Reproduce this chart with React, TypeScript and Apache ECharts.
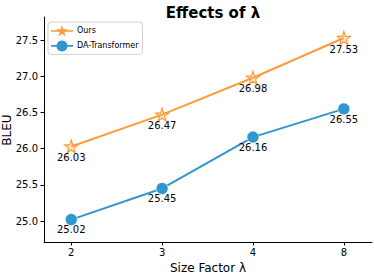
import React, { useEffect, useRef } from "react";
import * as echarts from "echarts";

const categories = ["2", "3", "4", "8"];
const oursValues = [26.03, 26.47, 26.98, 27.53];
const daValues = [25.02, 25.45, 26.16, 26.55];
const yTicks = [25.0, 25.5, 26.0, 26.5, 27.0, 27.5];

const ORANGE = "#FF9B3A";
const BLUE = "#2F96D0";
const FONT = "DejaVu Sans";
const STAR = "path://M50,0 L61.8,36.2 L100,36.2 L69.1,58.8 L80.9,95.1 L50,72.7 L19.1,95.1 L30.9,58.8 L0,36.2 L38.2,36.2 Z";
const LEG_STAR =
  "path://M0,5.2 L22,5.2 L22,6.8 L0,6.8 Z M11,0 L12.42,4.34 L17,4.34 L13.29,7.06 L14.71,11.41 L11,8.72 L7.29,11.41 L8.71,7.06 L5,4.34 L9.58,4.34 Z";
const LEG_CIRCLE =
  "path://M0,5.2 L22,5.2 L22,6.8 L0,6.8 Z M11,0.5 A5.5,5.5 0 1 1 10.99,0.5 Z";

export default function App() {
  const ref = useRef<HTMLDivElement>(null);
  useEffect(() => {
    if (!ref.current) return;
    const chart = echarts.init(ref.current, null, { renderer: "svg" });
    const xIdx = categories.map((_, i) => i);
    const mk = (vals: number[]) => vals.map((v, i) => [i, v]);
    const label = {
      show: true,
      position: "bottom" as const,
      distance: -1,
      color: "#000",
      fontFamily: FONT,
      fontSize: 10,
      formatter: (p: any) => p.value[1].toFixed(2),
    };
    chart.setOption({
      animation: false,
      textStyle: { fontFamily: FONT },
      title: {
        text: "Effects of λ",
        left: 208,
        textAlign: "center",
        top: 0,
        textStyle: { fontFamily: FONT, fontWeight: "bold", fontSize: 15, color: "#000" },
      },
      graphic: [
        {
          type: "text",
          x: 7,
          y: 130,
          rotation: Math.PI / 2,
          style: {
            text: "BLEU",
            fontFamily: FONT,
            fontSize: 12,
            fill: "#000",
            align: "center",
            verticalAlign: "middle",
          },
        },
      ],
      legend: {
        left: 48,
        top: 22,
        orient: "vertical",
        padding: [3, 4, 3, 3],
        itemGap: 4,
        itemWidth: 22,
        itemHeight: 12,
        borderColor: "#d0d0d0",
        borderWidth: 1,
        borderRadius: 3,
        backgroundColor: "#fff",
        textStyle: { fontFamily: FONT, fontSize: 8, color: "#000", padding: [0, 0, 0, -1] },
        data: [
          { name: "Ours", icon: LEG_STAR, itemStyle: { color: ORANGE, borderWidth: 0 } },
          { name: "DA-Transformer", icon: LEG_CIRCLE, itemStyle: { color: BLUE, borderWidth: 0 } },
        ],
      },
      grid: { left: 44, right: 2, top: 17, bottom: 32, outerBoundsMode: "none", containLabel: false },
      xAxis: {
        type: "value",
        min: -0.3,
        max: 3.31,
        name: "Size Factor λ",
        nameLocation: "middle",
        nameGap: 20,
        nameTextStyle: { fontFamily: FONT, fontSize: 12, color: "#000" },
        axisLine: { onZero: false, lineStyle: { color: "#000", width: 1 } },
        axisTick: { show: true, length: 3.5, customValues: xIdx, lineStyle: { color: "#000" } },
        axisLabel: {
          customValues: xIdx,
          fontFamily: FONT,
          fontSize: 10,
          color: "#000",
          margin: 5,
          formatter: (v: number) => categories[Math.round(v)] ?? "",
        },
        splitLine: { show: false },
      },
      yAxis: {
        type: "value",
        min: 24.71,
        max: 27.82,
        axisLine: { show: true, onZero: false, lineStyle: { color: "#000", width: 1 } },
        axisTick: { show: true, length: 3.5, customValues: yTicks, lineStyle: { color: "#000" } },
        axisLabel: {
          customValues: yTicks,
          fontFamily: FONT,
          fontSize: 10,
          color: "#000",
          margin: 6,
          formatter: (v: number) => v.toFixed(1),
        },
        splitLine: { show: false },
      },
      series: [
        {
          name: "Ours",
          type: "line",
          data: mk(oursValues),
          symbol: STAR,
          symbolSize: 13,
          lineStyle: { color: ORANGE, width: 2 },
          itemStyle: { color: "rgba(255,180,110,0.3)", borderColor: ORANGE, borderWidth: 1.2 },
          label,
          z: 3,
        },
        {
          name: "DA-Transformer",
          type: "line",
          data: mk(daValues),
          symbol: "circle",
          symbolSize: 12,
          lineStyle: { color: BLUE, width: 2 },
          itemStyle: { color: BLUE, borderColor: "rgba(255,255,255,0.75)", borderWidth: 0.8 },
          label,
          z: 2,
        },
      ],
    });
    return () => chart.dispose();
  }, []);
  return <div ref={ref} style={{ width: 374, height: 274, position: "absolute", left: 0, top: 0 }} />;
}
